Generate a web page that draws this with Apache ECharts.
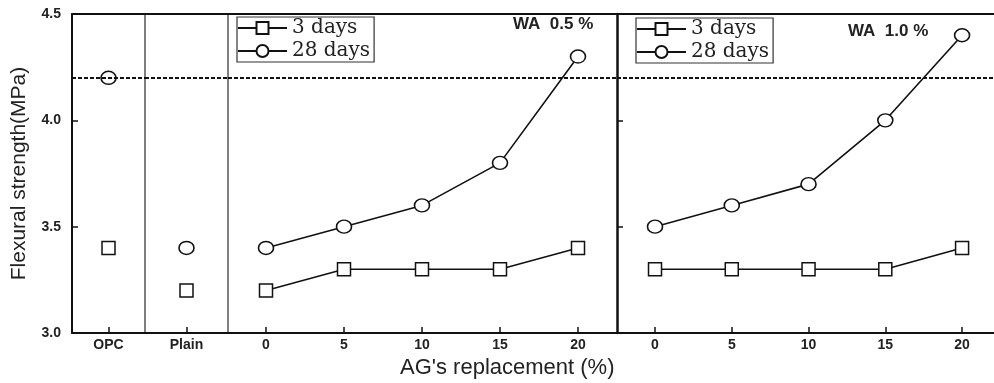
<!DOCTYPE html>
<html>
<head>
<meta charset="utf-8">
<script src="https://cdn.jsdelivr.net/npm/echarts@6/dist/echarts.min.js"></script>
<style>
  html, body { margin: 0; padding: 0; background: #fff; }
  #chart { width: 994px; height: 383px; }
</style>
</head>
<body>
<div id="chart"></div>
<script>
// Flexural strength (MPa) by curing age
const opcCategory = ['OPC'];
const plainCategory = ['Plain'];
const opc3d = [3.4];
const opc28d = [4.2];
const plain3d = [3.2];
const plain28d = [3.4];

// AG's replacement (%) levels
const agReplacement = [0, 5, 10, 15, 20];
const wa05_3d = [3.2, 3.3, 3.3, 3.3, 3.4];
const wa05_28d = [3.4, 3.5, 3.6, 3.8, 4.3];
const wa10_3d = [3.3, 3.3, 3.3, 3.3, 3.4];
const wa10_28d = [3.5, 3.6, 3.7, 4.0, 4.4];

// Reference level: OPC at 28 days
const opcReference = 4.2;

const seriesNames = ['3 days', '28 days'];
const panelTitles = ['WA  0.5 %', 'WA  1.0 %'];
const yMin = 3.0, yMax = 4.5, yStep = 0.5;

const INK = '#111';
const pairs = (xs, ys) => xs.map((x, i) => [x, ys[i]]);

const squareStyle = {
  symbol: 'rect', symbolSize: 13,
  itemStyle: { color: '#fff', borderColor: INK, borderWidth: 1.5 },
  lineStyle: { color: INK, width: 1.6 }
};
const circleStyle = {
  symbol: 'circle', symbolSize: [15, 13],
  itemStyle: { color: '#fff', borderColor: INK, borderWidth: 1.5 },
  lineStyle: { color: INK, width: 1.6 }
};

const refLine = {
  silent: true, symbol: 'none', label: { show: false },
  lineStyle: { color: INK, width: 2, type: [4, 2] },
  data: [{ yAxis: opcReference }]
};

const grids = [
  { left: 72, top: 14, width: 73, bottom: 50 },
  { left: 145, top: 14, width: 83, bottom: 50 },
  { left: 228, top: 14, width: 389, bottom: 50 },
  { left: 617, top: 14, width: 377, bottom: 50 }
];

const bottomLabel = { fontFamily: 'Liberation Sans', fontWeight: 'bold', fontSize: 14, color: '#222', margin: 5 };
const innerTick = { show: true, inside: true, length: 6, lineStyle: { color: INK, width: 1.5 } };
const bottomLine = { show: true, onZero: false, lineStyle: { color: INK, width: 2 } };

function topAxis(gridIndex) {
  return {
    type: 'value', gridIndex, position: 'top', min: 0, max: 1,
    axisLine: { show: true, onZero: false, lineStyle: { color: INK, width: 2 } },
    axisTick: { show: false }, axisLabel: { show: false }, splitLine: { show: false }
  };
}

function valueXAxis(gridIndex, min, max) {
  return {
    type: 'value', gridIndex, min, max,
    axisLine: bottomLine,
    axisTick: Object.assign({}, innerTick, { customValues: agReplacement }),
    axisLabel: Object.assign({}, bottomLabel, { customValues: agReplacement }),
    splitLine: { show: false }
  };
}

const xAxes = [
  { type: 'category', gridIndex: 0, data: opcCategory, axisLine: bottomLine,
    axisTick: Object.assign({ alignWithLabel: true }, innerTick), axisLabel: bottomLabel },
  { type: 'category', gridIndex: 1, data: plainCategory, axisLine: bottomLine,
    axisTick: Object.assign({ alignWithLabel: true }, innerTick), axisLabel: bottomLabel },
  valueXAxis(2, -2.436, 22.5),
  valueXAxis(3, -2.476, 22.08),
  topAxis(0), topAxis(1), topAxis(2), topAxis(3)
];

function plainYAxis(gridIndex, line, ticks) {
  return {
    type: 'value', gridIndex, min: yMin, max: yMax, interval: yStep, position: 'left',
    axisLine: { show: true, onZero: false, lineStyle: line },
    axisTick: ticks ? innerTick : { show: false },
    axisLabel: { show: false }, splitLine: { show: false }
  };
}

const yAxes = [
  {
    type: 'value', gridIndex: 0, min: yMin, max: yMax, interval: yStep, position: 'left',
    name: 'Flexural strength(MPa)', nameLocation: 'middle', nameGap: 42,
    nameTextStyle: { fontFamily: 'Liberation Sans', fontSize: 21, color: '#222' },
    axisLine: { show: true, onZero: false, lineStyle: { color: INK, width: 2 } },
    axisTick: innerTick,
    axisLabel: { fontFamily: 'Liberation Sans', fontWeight: 'bold', fontSize: 14, color: '#222', margin: 11,
      formatter: v => v.toFixed(1) },
    splitLine: { show: false }
  },
  plainYAxis(1, { color: '#555', width: 1.5 }, false),
  plainYAxis(2, { color: '#555', width: 1.5 }, false),
  plainYAxis(3, { color: INK, width: 2.5 }, true)
];

const series = [
  Object.assign({ type: 'line', name: seriesNames[0], xAxisIndex: 0, yAxisIndex: 0, data: opc3d, markLine: refLine }, squareStyle),
  Object.assign({ type: 'line', name: seriesNames[1], xAxisIndex: 0, yAxisIndex: 0, data: opc28d }, circleStyle),
  Object.assign({ type: 'line', name: seriesNames[0], xAxisIndex: 1, yAxisIndex: 1, data: plain3d, markLine: refLine }, squareStyle),
  Object.assign({ type: 'line', name: seriesNames[1], xAxisIndex: 1, yAxisIndex: 1, data: plain28d }, circleStyle),
  Object.assign({ type: 'line', name: seriesNames[0], xAxisIndex: 2, yAxisIndex: 2, data: pairs(agReplacement, wa05_3d), markLine: refLine }, squareStyle),
  Object.assign({ type: 'line', name: seriesNames[1], xAxisIndex: 2, yAxisIndex: 2, data: pairs(agReplacement, wa05_28d) }, circleStyle),
  Object.assign({ type: 'line', name: seriesNames[0], xAxisIndex: 3, yAxisIndex: 3, data: pairs(agReplacement, wa10_3d), markLine: refLine }, squareStyle),
  Object.assign({ type: 'line', name: seriesNames[1], xAxisIndex: 3, yAxisIndex: 3, data: pairs(agReplacement, wa10_28d) }, circleStyle)
];

function legendBox(left, top) {
  return {
    data: seriesNames, orient: 'vertical', left, top,
    itemWidth: 49, itemHeight: 15, itemGap: 3,
    padding: [1, 4, 1, 0],
    borderColor: '#333', borderWidth: 1.2, backgroundColor: '#fff',
    textStyle: { fontFamily: 'DejaVu Serif', fontSize: 20, color: '#222', lineHeight: 20 }
  };
}

const titleFont = { fontFamily: 'Liberation Sans', fontWeight: 'bold', fontSize: 17, color: '#222' };

const chart = echarts.init(document.getElementById('chart'), null, { renderer: 'canvas' });
chart.setOption({
  animation: false,
  backgroundColor: '#fff',
  grid: grids,
  xAxis: xAxes,
  yAxis: yAxes,
  series,
  legend: [legendBox(237, 17), legendBox(636, 18)],
  title: [
    { text: panelTitles[0], left: 513, top: 16, padding: 0, textStyle: titleFont },
    { text: panelTitles[1], left: 848, top: 23, padding: 0, textStyle: titleFont },
    { text: "AG's replacement (%)", left: 400, top: 357, padding: 0,
      textStyle: { fontFamily: 'Liberation Sans', fontWeight: 'normal', fontSize: 22, color: '#222' } }
  ]
});
</script>
</body>
</html>
